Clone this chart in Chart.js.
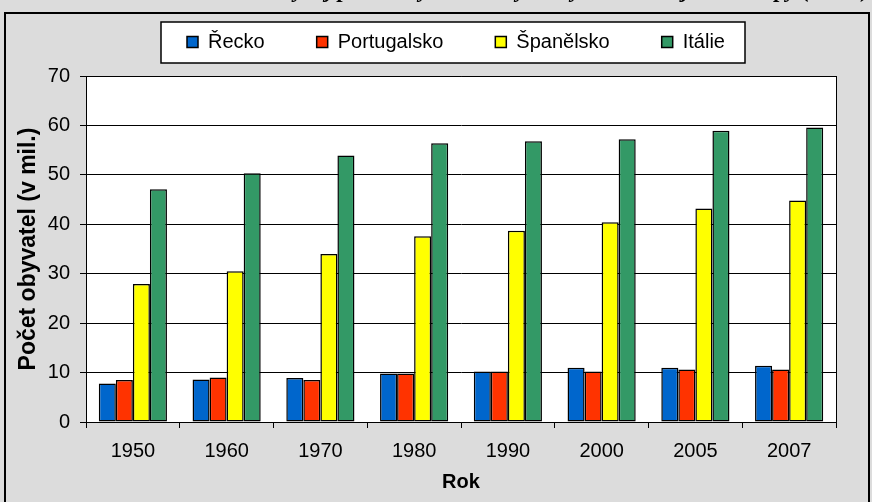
<!DOCTYPE html>
<html>
<head>
<meta charset="utf-8">
<script src="https://cdn.jsdelivr.net/npm/chart.js@4/dist/chart.umd.min.js"></script>
<style>
html,body{margin:0;padding:0;background:#dcdcdc;}
#wrap{width:872px;height:502px;position:relative;overflow:hidden;}
canvas{display:block;}
</style>
</head>
<body>
<div id="wrap"><canvas id="c" width="872" height="502"></canvas></div>
<script>
// ---- data (values in millions) ----
const years = ['1950', '1960', '1970', '1980', '1990', '2000', '2005', '2007'];
const recko = [7.8, 8.6, 8.9, 9.8, 10.2, 11.0, 11.0, 11.4];
const portugalsko = [8.5, 9.0, 8.5, 9.8, 10.2, 10.2, 10.6, 10.6];
const spanelsko = [27.9, 30.5, 34.0, 37.6, 38.7, 40.4, 43.2, 44.8];
const italie = [47.1, 50.3, 53.9, 56.4, 56.8, 57.2, 58.9, 59.6];
const seriesNames = ['Řecko', 'Portugalsko', 'Španělsko', 'Itálie'];
const seriesColors = ['#0066CC', '#FF3300', '#FFFF00', '#339966'];
const yMin = 0, yMax = 70, yStep = 10;
const titleText = 'Vývoj počtu obyvatel ve vybraných státech jižní Evropy (v mil.)';
const yTitle = 'Počet obyvatel (v mil.)';
const xTitle = 'Rok';

const FONT = '"Liberation Sans", Arial, sans-serif';

const seriesValues = [recko, portugalsko, spanelsko, italie];
const datasets = seriesNames.map((name, i) => ({
  label: name,
  data: seriesValues[i],
  backgroundColor: seriesColors[i],
  borderColor: '#000000',
  borderWidth: 1.5,
  borderSkipped: false,
  categoryPercentage: 0.727,
  barPercentage: 1.0
}));

const decorPlugin = {
  id: 'decor',
  afterInit(chart) {
    const lg = chart.legend;
    if (lg && !lg._patched) {
      const origFit = lg.fit;
      lg.fit = function () { origFit.call(this); this.height = 0; };
      lg._patched = true;
    }
  },
  beforeDraw(chart) {
    const {ctx, chartArea: a} = chart;
    ctx.save();
    ctx.fillStyle = '#dcdcdc';
    ctx.fillRect(0, 0, chart.width, chart.height);
    // title, cut off at the top edge of the picture
    ctx.fillStyle = '#000';
    ctx.font = 'italic bold 23px "Liberation Serif", serif';
    ctx.textAlign = 'right';
    ctx.textBaseline = 'alphabetic';
    ctx.fillText(titleText, 870, -3);
    // outer frame
    ctx.strokeStyle = '#000';
    ctx.lineWidth = 2;
    ctx.strokeRect(5, 13, 864, 500);
    // plot area
    ctx.fillStyle = '#ffffff';
    ctx.fillRect(a.left, a.top, a.right - a.left, a.bottom - a.top);
    // legend box
    ctx.fillStyle = '#ffffff';
    ctx.fillRect(161, 22, 584, 41);
    ctx.lineWidth = 1.5;
    ctx.strokeRect(161, 22, 584, 41);
    ctx.restore();
    const lg = chart.legend;
    lg.left = 187 - 52;
    lg.right = lg.left + 720;
    lg.top = 42 - 52 - 10;
    lg.bottom = lg.top + 100;
  },
  afterDraw(chart) {
    const {ctx, chartArea: a} = chart;
    ctx.save();
    ctx.strokeStyle = '#000';
    ctx.lineWidth = 1;
    ctx.beginPath();
    ctx.moveTo(Math.round(a.right) + 0.5, a.top);
    ctx.lineTo(Math.round(a.right) + 0.5, a.bottom);
    ctx.moveTo(a.left, Math.round(a.top) + 0.5);
    ctx.lineTo(a.right + 1, Math.round(a.top) + 0.5);
    ctx.stroke();
    ctx.restore();
  }
};

new Chart(document.getElementById('c'), {
  type: 'bar',
  data: {labels: years, datasets},
  options: {
    responsive: false,
    animation: false,
    events: [],
    layout: {padding: {left: 0, right: 36, top: 76, bottom: 0}},
    plugins: {
      legend: {
        display: true,
        position: 'top',
        align: 'start',
        labels: {
          boxWidth: 11,
          boxHeight: 11,
          padding: 52,
          color: '#000',
          font: {family: FONT, size: 20}
        }
      },
      title: {display: false},
      tooltip: {enabled: false}
    },
    scales: {
      x: {
        grid: {display: true, drawOnChartArea: false, drawTicks: true, tickLength: 6, color: '#000', lineWidth: 1, offset: true},
        border: {display: true, color: '#000', width: 1},
        ticks: {color: '#000', font: {family: FONT, size: 20}, padding: 11, maxRotation: 0, autoSkip: false},
        title: {display: true, text: xTitle, color: '#000', font: {family: FONT, size: 20, weight: 'bold'}, padding: {top: 0, bottom: 8}},
        afterFit(s) { s.height = 80; }
      },
      y: {
        min: yMin, max: yMax,
        ticks: {stepSize: yStep, color: '#000', font: {family: FONT, size: 20}, padding: 10},
        grid: {display: true, drawTicks: true, tickLength: 6, color: '#000', lineWidth: 1},
        border: {display: true, color: '#000', width: 1},
        title: {display: true, text: yTitle, color: '#000', font: {family: FONT, size: 23, weight: 'bold'}, padding: {top: 15, bottom: 0}},
        afterFit(s) { s.width = 86; }
      }
    }
  },
  plugins: [decorPlugin]
});
</script>
</body>
</html>
